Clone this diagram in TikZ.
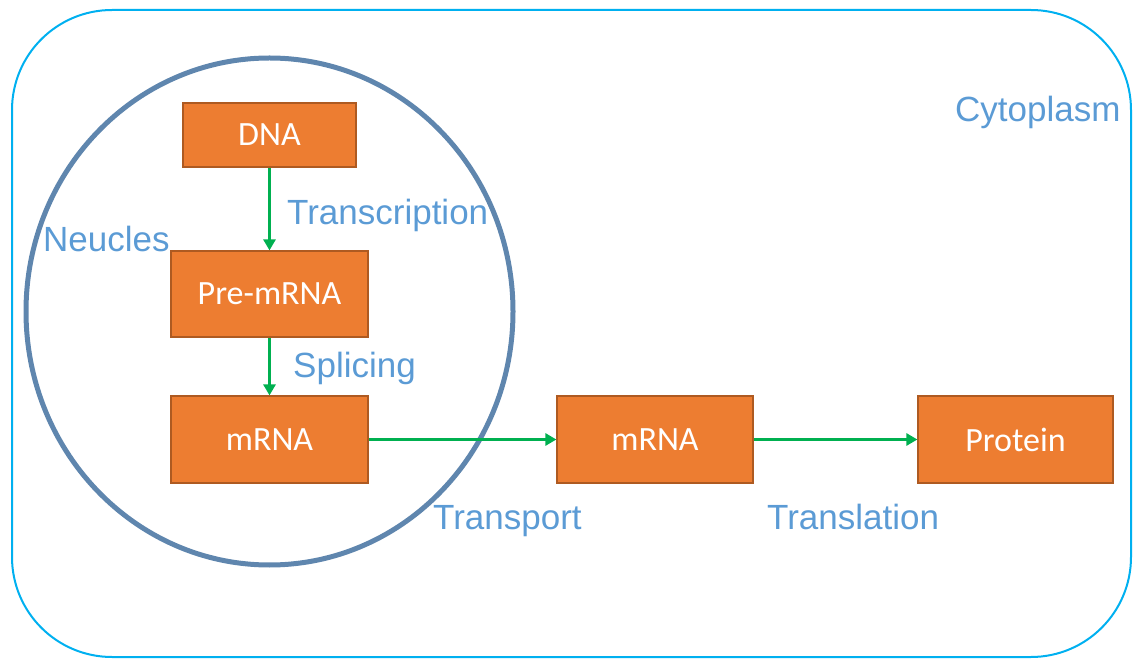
\documentclass[tikz,border=0pt]{standalone}
\usepackage{fontspec}
\setmainfont{Liberation Sans}
\newfontfamily\boxfont{Carlito}
\usetikzlibrary{arrows.meta,positioning}
\definecolor{cellblue}{HTML}{00B0F0}
\definecolor{nucblue}{HTML}{5F86AE}
\definecolor{lblblue}{HTML}{5B9BD5}
\definecolor{boxfill}{HTML}{ED7D31}
\definecolor{boxline}{HTML}{AE5A21}
\definecolor{arrgreen}{HTML}{00B050}
\tikzset{mol/.style={rectangle,draw=boxline,fill=boxfill,line width=1.2pt,text=white,
    font=\boxfont\fontsize{34}{40}\selectfont,inner sep=0pt},
  lbl/.style={text=lblblue,font=\fontsize{35}{42}\selectfont,inner sep=0pt},
  flow/.style={draw=arrgreen,line width=3pt,-{Triangle[length=11pt,width=12pt]}}}

\begin{document}
\begin{tikzpicture}[x=1pt,y=-1pt]
\useasboundingbox (0,0) rectangle (1136,660);
% cell and nucleus
\draw[cellblue,line width=2pt,rounded corners=100pt] (12,10) rectangle (1131,657);
\draw[nucblue,line width=5pt] (269.5,311.5) ellipse [x radius=243.5pt,y radius=253.5pt];
% molecules
\node (dna) at (269.5,135) [mol,minimum width=173pt,minimum height=64pt] {DNA};
\node (pre) at (269.5,294) [mol,minimum width=197pt,minimum height=86pt] {Pre-mRNA};
\node (mrna) at (269.5,439.5) [mol,minimum width=197pt,minimum height=87pt] {mRNA};
\node (mrnaout) at (655,439.5) [mol,minimum width=196pt,minimum height=87pt] {mRNA};
\node (prot) at (1015.5,439.5) [mol,minimum width=195pt,minimum height=87pt] {Protein};
% steps
\draw[flow] (dna) -- (pre);
\draw[flow] (pre) -- (mrna);
\draw[flow] (mrna) -- (mrnaout);
\draw[flow] (mrnaout) -- (prot);
\node (transc) at (287,225) [lbl,anchor=base west] {Transcription};
\node (splic) at (293,378) [lbl,anchor=base west] {Splicing};
\node (transp) at (433,529) [lbl,anchor=base west] {Transport};
\node (transl) at (767,529) [lbl,anchor=base west] {Translation};
\node (nuc) at (43,252) [lbl,anchor=base west] {Neucles};
\node (cyto) at (955,122) [lbl,anchor=base west] {Cytoplasm};
\end{tikzpicture}
\end{document}
